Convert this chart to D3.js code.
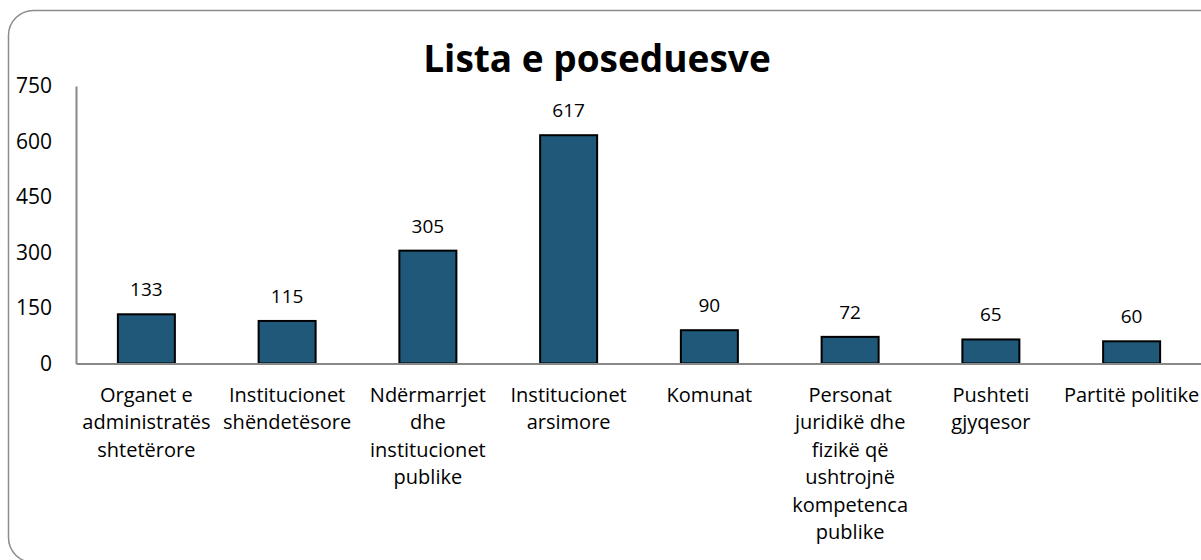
<!DOCTYPE html>
<html>
<head>
<meta charset="utf-8">
<script src="https://cdn.jsdelivr.net/npm/d3@7"></script>
<style>
    body { margin: 0; background: #ffffff; }
    svg { display: block; }
</style>
</head>
<body>
<div id="chart"></div>
<script>
// data
var categories = [
    "Organet e\nadministratës\nshtetërore",
    "Institucionet\nshëndetësore",
    "Ndërmarrjet\ndhe\ninstitucionet\npublike",
    "Institucionet\narsimore",
    "Komunat",
    "Personat\njuridikë dhe\nfizikë që\nushtrojnë\nkompetenca\npublike",
    "Pushteti\ngjyqesor",
    "Partitë politike"
];
var values = [133, 115, 305, 617, 90, 72, 65, 60];
var yTicks = [0, 150, 300, 450, 600, 750];
var chartTitle = "Lista e poseduesve";

var width = 1201, height = 560;
var margin = { top: 86, right: -1, bottom: 196.5, left: 76 };
var plotWidth = width - margin.left - margin.right;
var plotHeight = height - margin.top - margin.bottom;

var svg = d3.select("#chart")
    .append("svg")
    .attr("width", width)
    .attr("height", height);

// outer rounded frame
svg.append("rect")
    .attr("x", 8.5)
    .attr("y", 10.5)
    .attr("width", 1215)
    .attr("height", 552)
    .attr("rx", 25)
    .attr("fill", "#ffffff")
    .attr("stroke", "#8c8c8c")
    .attr("stroke-width", 1.5);

var g = svg.append("g")
    .attr("transform", "translate(" + margin.left + "," + margin.top + ")");

var x = d3.scaleBand()
    .domain(categories)
    .range([0, plotWidth])
    .paddingInner(0.595)
    .paddingOuter(0.2975);

var y = d3.scaleLinear()
    .domain([0, 750])
    .range([plotHeight, 0]);

svg.append("text")
    .attr("x", 597)
    .attr("y", 72)
    .attr("text-anchor", "middle")
    .attr("font-family", "Open Sans")
    .attr("font-weight", 700)
    .style("font-size", "37px")
    .attr("fill", "#000")
    .text(chartTitle);

// y axis
var yAxis = g.append("g")
    .call(d3.axisLeft(y).tickValues(yTicks).tickSize(0).tickPadding(24));
yAxis.select(".domain").attr("stroke", "#888888").attr("stroke-width", 2);
yAxis.selectAll("text")
    .attr("font-family", "Open Sans")
    .style("font-size", "21px")
    .attr("fill", "#000");

// bars
g.selectAll("rect.bar")
    .data(values)
    .join("rect")
    .attr("class", "bar")
    .attr("x", function (d, i) { return x(categories[i]); })
    .attr("y", function (d) { return y(d); })
    .attr("width", x.bandwidth())
    .attr("height", function (d) { return plotHeight - y(d); })
    .attr("fill", "#1f5878")
    .attr("stroke", "#000")
    .attr("stroke-width", 2);

// value labels
g.selectAll("text.value")
    .data(values)
    .join("text")
    .attr("class", "value")
    .attr("x", function (d, i) { return x(categories[i]) + x.bandwidth() / 2; })
    .attr("y", function (d) { return y(d) - 18; })
    .attr("text-anchor", "middle")
    .attr("font-family", "Open Sans")
    .style("font-size", "19px")
    .attr("fill", "#000")
    .text(function (d) { return d; });

// x axis baseline
var xAxis = g.append("g")
    .attr("transform", "translate(0," + plotHeight + ")")
    .call(d3.axisBottom(x).tickSize(0).tickFormat(""));
xAxis.select(".domain").attr("stroke", "#888888").attr("stroke-width", 2);

// category labels, one tspan per line
var labels = g.selectAll("text.cat")
    .data(categories)
    .join("text")
    .attr("class", "cat")
    .attr("text-anchor", "middle")
    .attr("font-family", "Open Sans")
    .style("font-size", "20px")
    .attr("fill", "#000")
    .attr("transform", function (d) {
        return "translate(" + (x(d) + x.bandwidth() / 2) + "," + (plotHeight + 38) + ")";
    });

labels.selectAll("tspan")
    .data(function (d) { return d.split("\n"); })
    .join("tspan")
    .attr("x", 0)
    .attr("y", function (d, i) { return i * 27.5; })
    .text(function (d) { return d; });
</script>
</body>
</html>
